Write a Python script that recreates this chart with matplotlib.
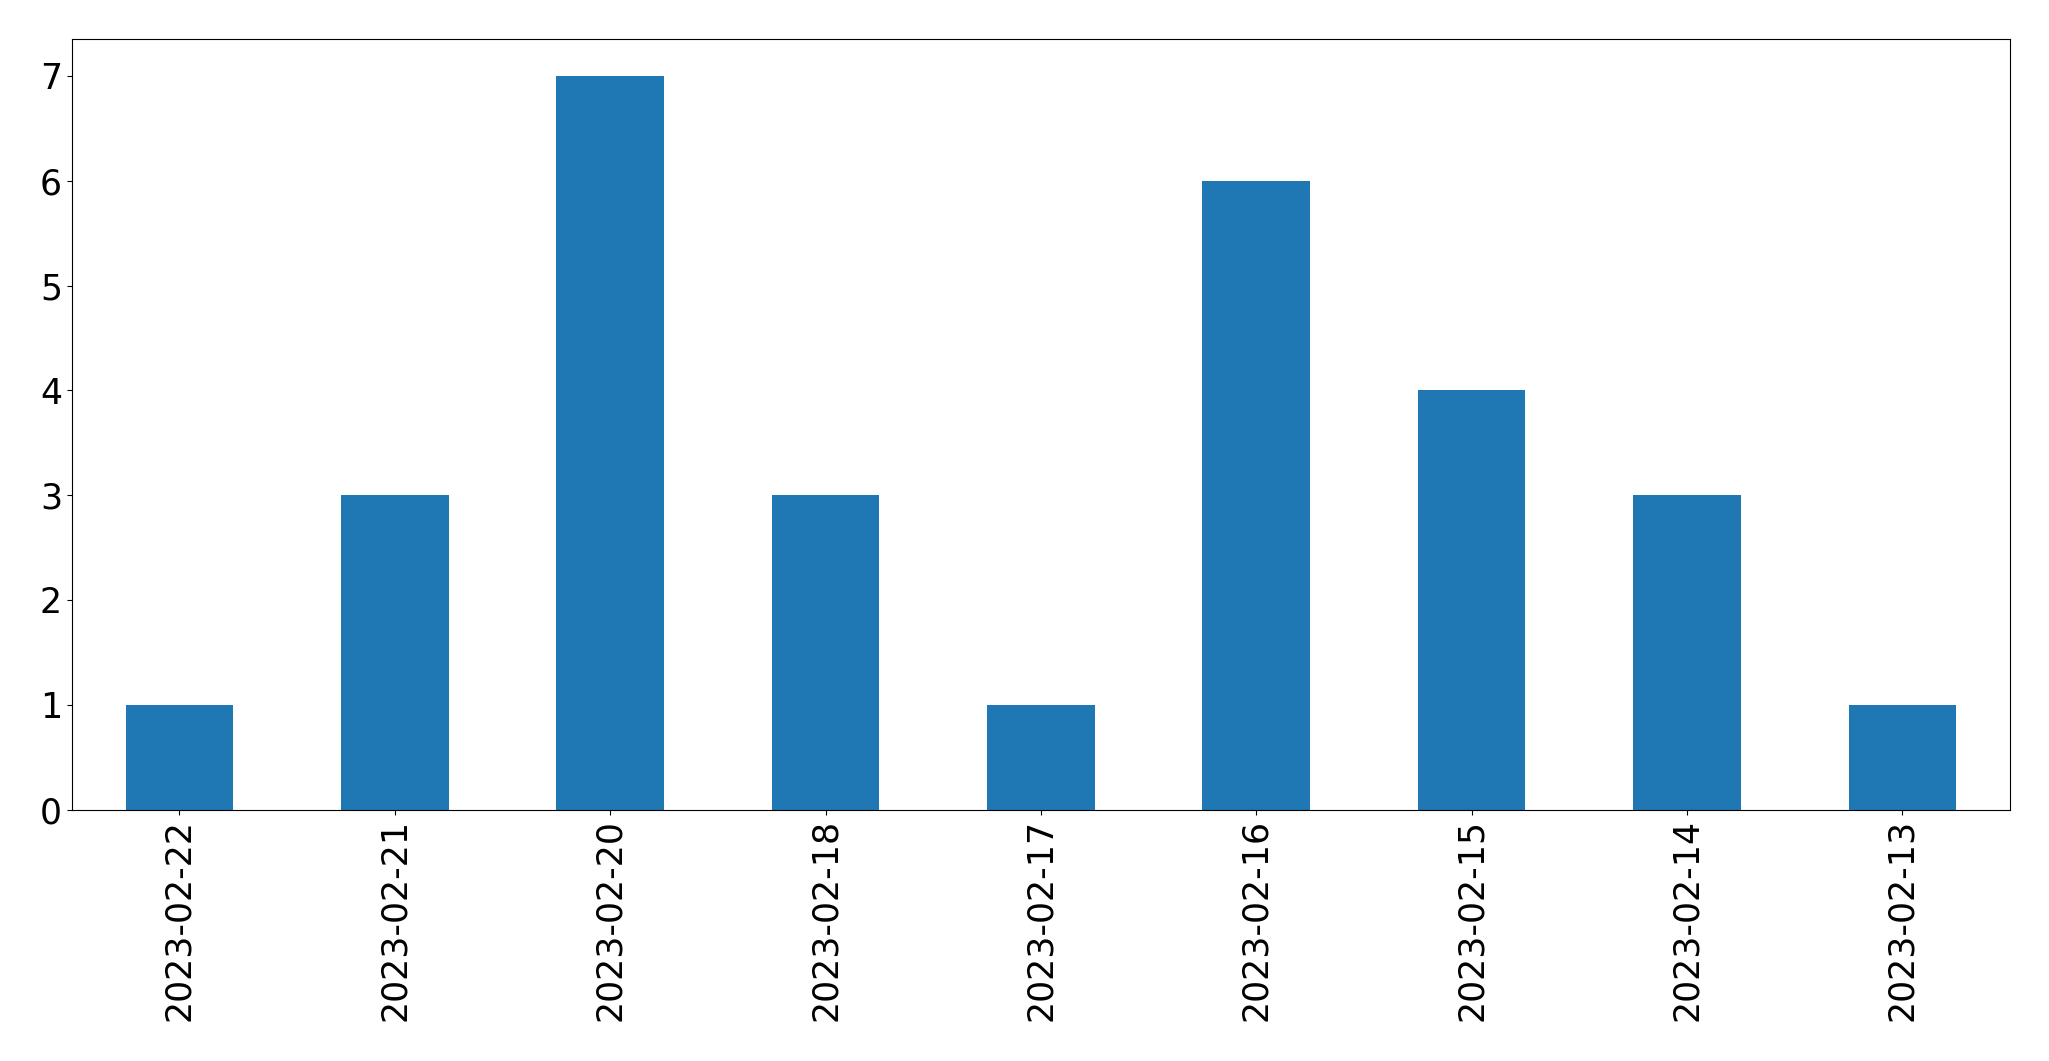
import pandas as pd
import matplotlib
matplotlib.use('Agg')
import matplotlib.pyplot as plt

# Counts per day
dates = ['2023-02-22', '2023-02-21', '2023-02-20', '2023-02-18', '2023-02-17',
         '2023-02-16', '2023-02-15', '2023-02-14', '2023-02-13']
counts = [1, 3, 7, 3, 1, 6, 4, 3, 1]

s = pd.Series(counts, index=dates)

fig, ax = plt.subplots(figsize=(20.49, 10.61), dpi=100)
s.plot(kind='bar', ax=ax, color='#1f77b4')

ax.tick_params(axis='both', labelsize=25)

plt.subplots_adjust(left=0.035, right=0.981, top=0.963, bottom=0.237)
plt.savefig('out.png', dpi=100)
